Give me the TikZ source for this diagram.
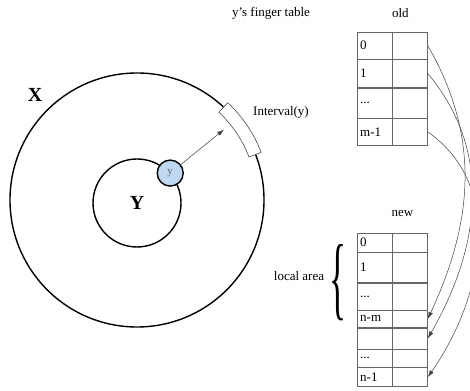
\documentclass[tikz,border=0pt]{standalone}
\usepackage{fontspec}
\setmainfont{Liberation Serif}
\usetikzlibrary{positioning, arrows.meta, calc}
\definecolor{ringblue}{RGB}{190,216,242}

\begin{document}
\begin{tikzpicture}[x=1pt, y=1pt, >={Latex[length=7pt,width=4.5pt]}, font=\fontsize{13}{15}\selectfont,
    ring/.style={draw, circle, line width=1.4pt, inner sep=0pt},
    cell/.style={draw=black!60, rectangle, minimum width=35pt, text width=29pt, inner xsep=3pt, inner ysep=0pt, align=left},
    ptr/.style={draw=black!60, rectangle, minimum width=35pt, inner sep=0pt},
    link/.style={->, draw=black!75, line width=0.5pt}]
    \useasboundingbox (0,0) rectangle (470,390);
    % the two rings and node y
    \node (ringx) [ring, minimum size=254pt] at (137,190) {};
    \node (ringy) [ring, minimum size=88pt, font=\fontsize{20}{20}\selectfont\bfseries] at (137,187) {Y};
    \node (xlabel) [font=\fontsize{20}{20}\selectfont\bfseries] at (35,295) {X};
    \node (ynode) [ring, fill=ringblue, minimum size=26pt, font=\fontsize{11}{11}\selectfont, text=black!60] at (ringy.42) {y};
    \draw [fill=white, draw=black!70, line width=0.6pt] ($(ringx.center)+(21:120)$) arc[start angle=21, end angle=47, radius=120]
        -- ($(ringx.center)+(47:133)$) arc[start angle=47, end angle=21, radius=133] -- cycle;
    \coordinate (ivl) at ($(ringx.center)+(39:112)$);
    \draw [link] (ynode) -- (ivl);
    \node (ivllabel) at (281,278) {Interval(y)};
    \node (title) at (271,377) {y's finger table};

    % old table
    \node (old0) [cell, minimum height=27pt, anchor=north west] at (357,358) {0};
    \node (old1) [cell, minimum height=28pt, below=0pt of old0] {1};
    \node (olddots) [cell, minimum height=30pt, below=0pt of old1] {...};
    \node (oldlast) [cell, minimum height=27pt, below=0pt of olddots] {m-1};
    \node (old0ptr) [ptr, minimum height=27pt, right=0pt of old0] {};
    \node (old1ptr) [ptr, minimum height=28pt, right=0pt of old1] {};
    \node (olddotsptr) [ptr, minimum height=30pt, right=0pt of olddots] {};
    \node (oldlastptr) [ptr, minimum height=27pt, right=0pt of oldlast] {};
    \node (oldlabel) [above=11pt of old0.north east, xshift=8pt] {old};

    % new table
    \node (new0) [cell, minimum height=19pt, anchor=north west] at (357,157) {0};
    \node (new1) [cell, minimum height=30pt, below=0pt of new0] {1};
    \node (newdots) [cell, minimum height=27pt, below=0pt of new1] {...};
    \node (newnm) [cell, minimum height=17pt, below=0pt of newdots] {n-m};
    \node (newnext) [cell, minimum height=21pt, below=0pt of newnm] {};
    \node (newdots2) [cell, minimum height=18pt, below=0pt of newnext] {...};
    \node (newlast) [cell, minimum height=19pt, below=0pt of newdots2] {n-1};
    \node (new0ptr) [ptr, minimum height=19pt, right=0pt of new0] {};
    \node (new1ptr) [ptr, minimum height=30pt, right=0pt of new1] {};
    \node (newdotsptr) [ptr, minimum height=27pt, right=0pt of newdots] {};
    \node (newnmptr) [ptr, minimum height=17pt, right=0pt of newnm] {};
    \node (newnextptr) [ptr, minimum height=21pt, right=0pt of newnext] {};
    \node (newdots2ptr) [ptr, minimum height=18pt, right=0pt of newdots2] {};
    \node (newlastptr) [ptr, minimum height=19pt, right=0pt of newlast] {};
    \node (newlabel) [above=13pt of new0.north east, xshift=10pt] {new};

    % local area brace
    \node (brace) [left=10pt of new1.south west, inner sep=0pt] {\resizebox{17pt}{64pt}{\{}};
    \node (locallabel) [left=2pt of brace, yshift=7pt] {local area};

    % moved entries
    \draw [link] (old0ptr.east) to[out=-60, in=65] (newnmptr.east);
    \draw [link] (old1ptr.east) to[out=-50, in=60] (newnextptr.east);
    \draw [link] (oldlastptr.east) to[out=-35, in=55] (newlastptr.east);
\end{tikzpicture}
\end{document}
